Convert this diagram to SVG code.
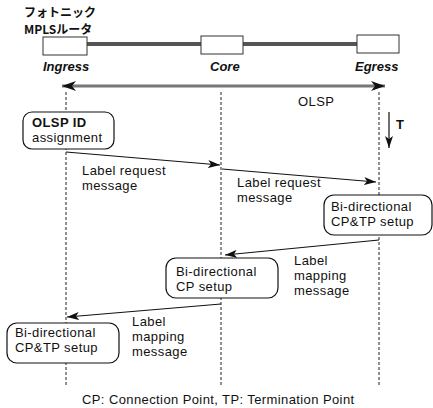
<svg xmlns="http://www.w3.org/2000/svg" width="433" height="408" viewBox="0 0 433 408">
<style>
text{font-family:"Liberation Sans","Noto Sans CJK JP",sans-serif;fill:#111;font-size:13px;letter-spacing:0.4px}
.jp{font-family:"Noto Sans CJK JP","Liberation Sans",sans-serif;font-weight:bold;font-size:12px;letter-spacing:0}
.it{font-style:italic;font-weight:bold;font-size:13px;letter-spacing:0}
.rt{fill:#fff;stroke:#333;stroke-width:1}
.bar{stroke:#555;stroke-width:4}
.life{stroke:#222;stroke-width:1;stroke-dasharray:3 2;fill:none}
.msg{stroke:#111;stroke-width:1.2;fill:none;marker-end:url(#ah)}
.box{fill:#fff;stroke:#111;stroke-width:1.2}
</style>
<defs>
<marker id="ah" viewBox="0 0 12 8" refX="12" refY="4" markerWidth="12" markerHeight="8" markerUnits="userSpaceOnUse" orient="auto">
<path d="M0,0 L12,4 L0,8 L3,4 Z" fill="#111"/>
</marker>
<marker id="ahb" viewBox="0 0 14 10" refX="14" refY="5" markerWidth="14" markerHeight="10" markerUnits="userSpaceOnUse" orient="auto-start-reverse">
<path d="M0,0 L14,5 L0,10 L4,5 Z" fill="#111"/>
</marker>
</defs>

<g id="title">
<text class="jp" x="24" y="17">フォトニック</text>
<text class="jp" x="24" y="34">MPLSルータ</text>
</g>

<g id="connectors">
<line class="bar" x1="87" y1="44" x2="201" y2="44"/>
<line class="bar" x1="243" y1="44" x2="357" y2="44"/>
<line x1="62" y1="86" x2="385" y2="86" stroke="#777" stroke-width="3" marker-start="url(#ahb)" marker-end="url(#ahb)"/>
<line class="life" x1="66" y1="92" x2="66" y2="385"/>
<line class="life" x1="221" y1="92" x2="221" y2="385"/>
<line class="life" x1="379" y1="92" x2="379" y2="385"/>
<line x1="389" y1="112" x2="389" y2="148" stroke="#111" stroke-width="1.2" marker-end="url(#ah)"/>
<line class="msg" x1="66" y1="152" x2="220" y2="165"/>
<line class="msg" x1="222" y1="169" x2="376" y2="182"/>
<line class="msg" x1="379" y1="240" x2="225" y2="255"/>
<line class="msg" x1="221" y1="304" x2="67" y2="317"/>
</g>

<g id="ingress">
<rect class="rt" x="43" y="37" width="44" height="18"/>
<text class="it" x="43" y="71">Ingress</text>
</g>
<g id="core">
<rect class="rt" x="201" y="36" width="42" height="18"/>
<text class="it" x="210" y="71">Core</text>
</g>
<g id="egress">
<rect class="rt" x="357" y="35" width="42" height="18"/>
<text class="it" x="355" y="71">Egress</text>
</g>

<g id="olsp-label"><text x="298" y="106">OLSP</text></g>
<g id="time-label"><text x="396" y="129" font-weight="bold">T</text></g>

<g id="olsp-id">
<rect class="box" x="23" y="112" width="91" height="37" rx="9"/>
<text x="32" y="127" font-weight="bold">OLSP ID</text>
<text x="32" y="142">assignment</text>
</g>

<g id="req1"><text x="82" y="175">Label request</text><text x="82" y="190">message</text></g>
<g id="req2"><text x="237" y="187">Label request</text><text x="237" y="202">message</text></g>

<g id="egress-setup">
<rect class="box" x="324" y="195" width="108" height="40" rx="10"/>
<text x="331" y="211">Bi-directional</text>
<text x="331" y="226">CP&amp;TP setup</text>
</g>

<g id="map1"><text x="294" y="265">Label</text><text x="294" y="280">mapping</text><text x="294" y="295">message</text></g>

<g id="core-setup">
<rect class="box" x="166" y="258" width="112" height="40" rx="10"/>
<text x="176" y="276">Bi-directional</text>
<text x="176" y="291">CP setup</text>
</g>

<g id="map2"><text x="132" y="326">Label</text><text x="132" y="341">mapping</text><text x="132" y="356">message</text></g>

<g id="ingress-setup">
<rect class="box" x="7" y="323" width="112" height="40" rx="10"/>
<text x="15" y="337">Bi-directional</text>
<text x="15" y="352">CP&amp;TP setup</text>
</g>

<g id="caption"><text x="82" y="404" font-size="13.5">CP: Connection Point, TP: Termination Point</text></g>
</svg>
